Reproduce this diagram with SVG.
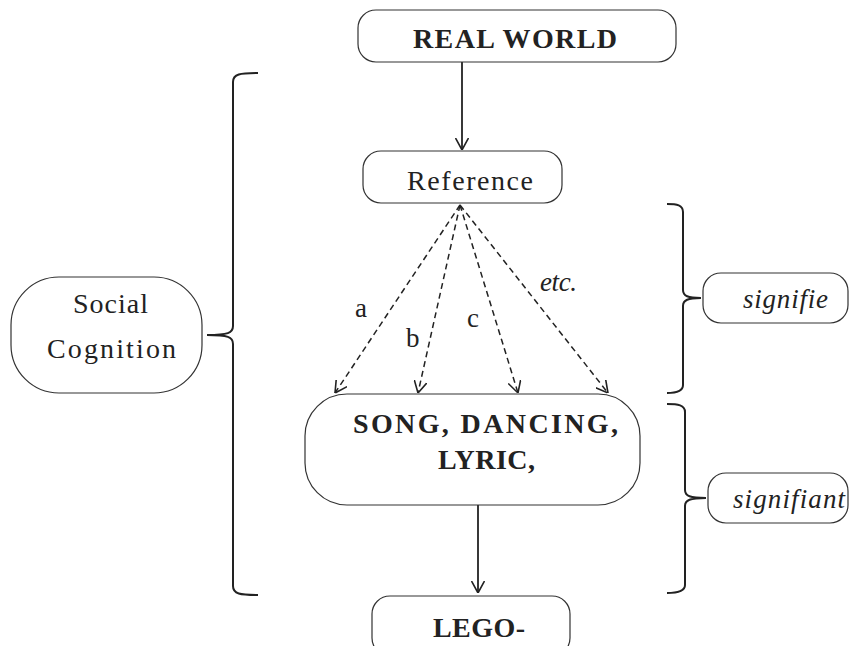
<svg xmlns="http://www.w3.org/2000/svg" width="849" height="646" viewBox="0 0 849 646">
<style>
.box{fill:#fff;stroke:#333;stroke-width:1.2}
.t{font-family:"Liberation Serif","DejaVu Serif",serif;fill:#222}
.b{font-weight:bold;font-size:28px}
.r{font-size:28px}
.i{font-style:italic;font-size:27px}
.con{fill:none;stroke:#222;stroke-width:1.8}
.dash{fill:none;stroke:#222;stroke-width:1.5;stroke-dasharray:6 4}
.brace{fill:none;stroke:#222;stroke-width:2}
</style>
<defs>
<marker id="v" viewBox="0 0 12 14" refX="12" refY="7" markerWidth="12" markerHeight="14" markerUnits="userSpaceOnUse" orient="auto">
<path d="M0,0.5 L12,7 L0,13.5" fill="none" stroke="#222" stroke-width="1.6"/>
</marker>
</defs>
<rect width="849" height="646" fill="#fff"/>
<g id="connectors">
<line class="con" x1="462" y1="62" x2="462" y2="150" marker-end="url(#v)"/>
<line class="dash" x1="460" y1="205" x2="335" y2="393" marker-end="url(#v)"/>
<line class="dash" x1="460" y1="205" x2="418" y2="393" marker-end="url(#v)"/>
<line class="dash" x1="460" y1="205" x2="518" y2="393" marker-end="url(#v)"/>
<line class="dash" x1="460" y1="205" x2="608" y2="393" marker-end="url(#v)"/>
<line class="con" x1="478" y1="505" x2="478" y2="593" marker-end="url(#v)"/>
<path class="brace" d="M258,73 C240,73 233,74 233,82 L233,326 C233,333 228,335 207,335 C228,335 233,337 233,344 L233,586 C233,594 240,595 258,595"/>
<path class="brace" d="M667,204 C677,204 683,205 683,212 L683,290 C683,296 688,298 701,298 C688,298 683,300 683,306 L683,385 C683,391 677,393 667,393"/>
<path class="brace" d="M667,404 C678,404 685,405 685,412 L685,490 C685,496 690,498 706,498 C690,498 685,500 685,506 L685,585 C685,591 678,593 667,593"/>
<text class="t" x="355" y="317" font-size="27">a</text>
<text class="t" x="406" y="347" font-size="27">b</text>
<text class="t" x="467" y="327" font-size="27">c</text>
<text class="t i" x="540" y="291" textLength="37" lengthAdjust="spacing">etc.</text>
</g>
<g id="real-world">
<rect class="box" x="358" y="10" width="318" height="52" rx="18"/>
<text class="t b" x="413" y="48" textLength="204" lengthAdjust="spacing">REAL WORLD</text>
</g>
<g id="reference">
<rect class="box" x="363" y="151" width="199" height="52" rx="18"/>
<text class="t r" x="407" y="190" textLength="126" lengthAdjust="spacing">Reference</text>
</g>
<g id="song">
<rect class="box" x="305" y="394" width="335" height="111" rx="42"/>
<text class="t b" x="353" y="433" textLength="265" lengthAdjust="spacing">SONG, DANCING,</text>
<text class="t b" x="438" y="469" textLength="97" lengthAdjust="spacing">LYRIC,</text>
</g>
<g id="lego">
<rect class="box" x="372" y="596" width="198" height="60" rx="18"/>
<text class="t b" x="433" y="637" textLength="92" lengthAdjust="spacing">LEGO-</text>
</g>
<g id="social-cognition">
<rect class="box" x="11" y="277" width="191" height="116" rx="48"/>
<text class="t r" x="73" y="313" textLength="75" lengthAdjust="spacing">Social</text>
<text class="t r" x="47" y="358" textLength="129" lengthAdjust="spacing">Cognition</text>
</g>
<g id="signifie">
<rect class="box" x="703" y="273" width="145" height="50" rx="18"/>
<text class="t i" x="743" y="308" textLength="85" lengthAdjust="spacing">signifie</text>
</g>
<g id="signifiant">
<rect class="box" x="708" y="473" width="140" height="50" rx="18"/>
<text class="t i" x="733" y="508" textLength="112" lengthAdjust="spacing">signifiant</text>
</g>
</svg>
